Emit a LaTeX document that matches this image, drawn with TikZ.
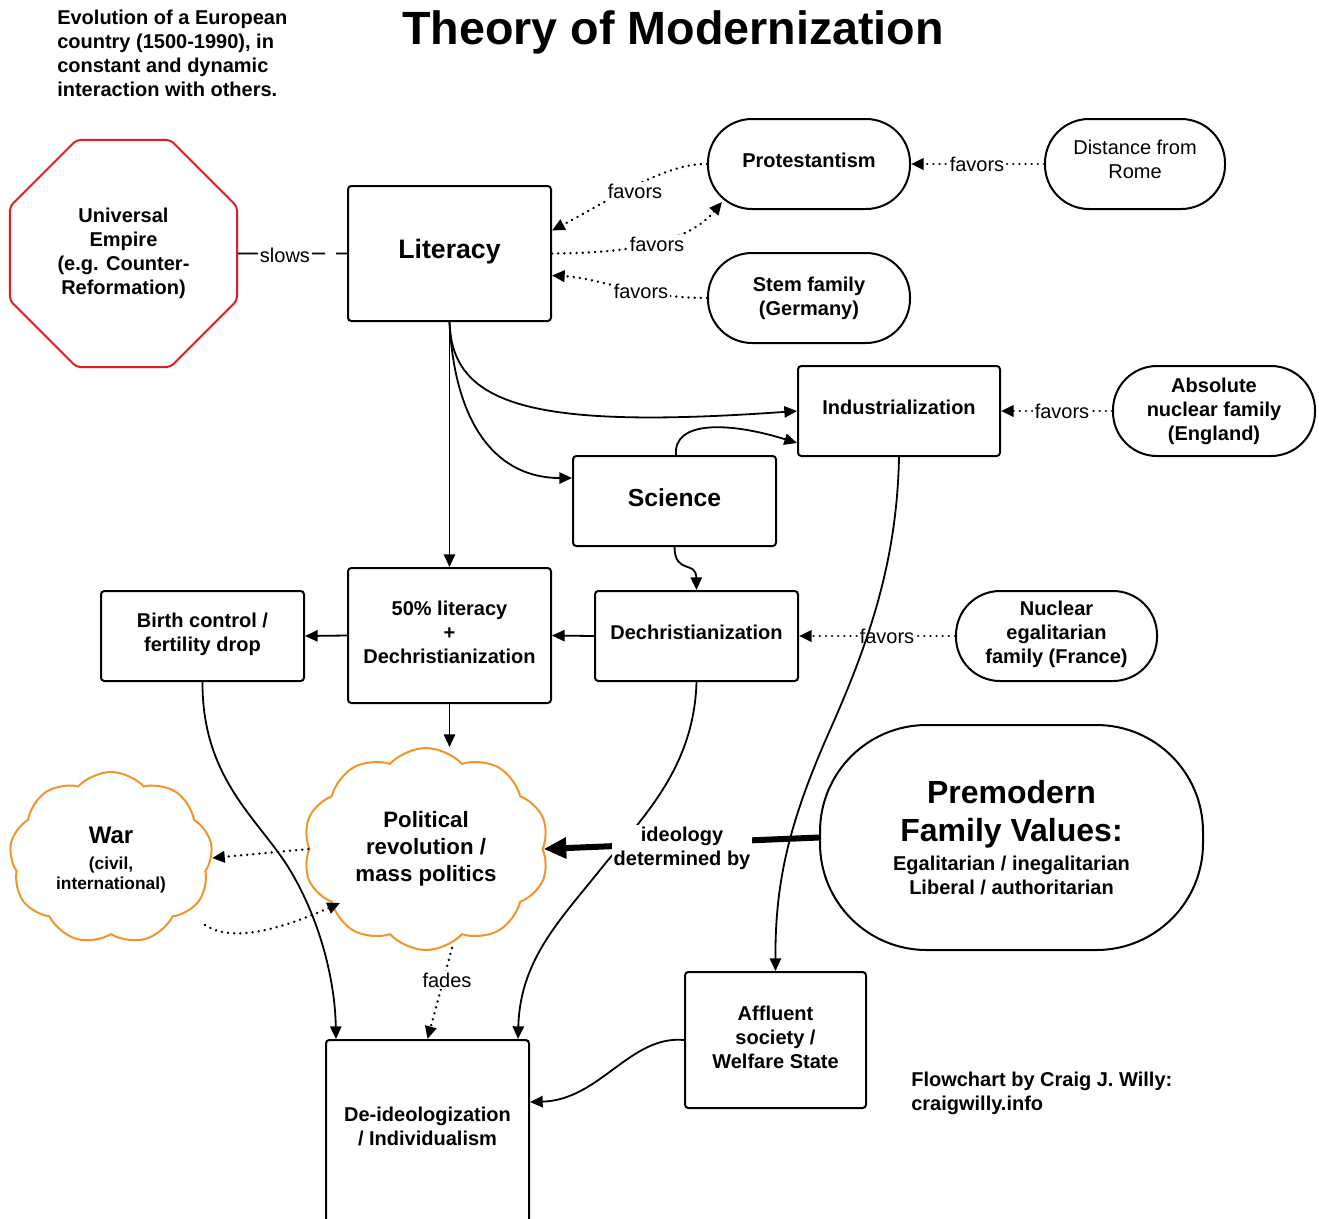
\documentclass[tikz,border=0pt]{standalone}
\usepackage{fontspec}
\setmainfont{Liberation Sans}
\usetikzlibrary{arrows.meta,shapes.geometric,shapes.symbols,calc}
\definecolor{cloudorange}{RGB}{240,150,40}
\definecolor{stopred}{RGB}{220,30,30}
\begin{document}
\begin{tikzpicture}[x=0.75pt,y=-0.75pt,
  every node/.style={inner sep=0pt, align=center},
  bodyfont/.style={font=\bfseries\fontsize{15}{18}\selectfont},
  box/.style={draw, line width=1.5pt, rounded corners=2.5pt, fill=white, bodyfont},
  pill/.style={draw, line width=1.5pt, rounded corners=33pt, fill=white, bodyfont},
  conn/.style={line width=1.35pt, -{Triangle[length=9.5pt,width=8.5pt]}},
  dotconn/.style={line width=2pt, dash pattern=on 0.01pt off 4.6pt, line cap=round, -{Triangle[length=9.5pt,width=8.5pt]}},
  lab/.style={fill=white, font=\fontsize{15}{18}\selectfont, inner sep=1.5pt},
  puff/.style={cloud, draw=cloudorange, line width=1.5pt, fill=white, cloud puff arc=95},
]
\fill[white] (0,0) rectangle (1319,1218);
\useasboundingbox (0,0) rectangle (1319,1218);

% ---------- texts ----------
\node[anchor=base, font=\bfseries\fontsize{35}{40}\selectfont] (title) at (673,44) {Theory of Modernization};
\node[anchor=north west, align=left, bodyfont] (intro) at (57,9.5) {Evolution of a European\\country (1500-1990), in\\constant and dynamic\\interaction with others.};
\node[anchor=north west, align=left, bodyfont] (credit) at (911,1072) {Flowchart by Craig J. Willy:\\craigwilly.info};

% ---------- nodes ----------
\node[regular polygon, regular polygon sides=8, draw=stopred, line width=1.5pt, minimum size=184.3pt, rounded corners=3pt, fill=white, bodyfont] (emp) at (123.5,253.5) {Universal\\Empire\\(e.g. Counter-\\Reformation)};
\node[box, minimum width=152.25pt, minimum height=101.25pt, font=\bfseries\fontsize{20}{24}\selectfont, text depth=7pt] (lit) at (449.5,253.5) {Literacy};
\node[pill, minimum width=151.5pt, minimum height=67.5pt, text depth=6pt] (prot) at (809,164) {Protestantism};
\node[pill, minimum width=135pt, minimum height=67.5pt, font=\fontsize{15}{18}\selectfont, text depth=6.5pt] (dist) at (1135,164) {Distance from\\Rome};
\node[pill, minimum width=151.5pt, minimum height=67.5pt] (stem) at (809,298) {Stem family\\(Germany)};
\node[box, minimum width=151.5pt, minimum height=67.5pt, text depth=6pt] (ind) at (899,411) {Industrialization};
\node[pill, minimum width=151.5pt, minimum height=67.5pt] (abs) at (1214,411) {Absolute\\nuclear family\\(England)};
\node[box, minimum width=152.25pt, minimum height=67.5pt, font=\bfseries\fontsize{18.5}{22}\selectfont, text depth=4.5pt] (sci) at (674.5,501) {Science};
\node[box, minimum width=152.25pt, minimum height=101.25pt, text depth=4.5pt] (lit50) at (449.5,635.5) {50\% literacy\\+\\Dechristianization};
\node[box, minimum width=152.25pt, minimum height=67.5pt, text depth=5.5pt] (birth) at (202.5,636) {Birth control /\\fertility drop};
\node[box, minimum width=152.25pt, minimum height=67.5pt, text depth=6pt] (dech) at (696.5,636) {Dechristianization};
\node[pill, minimum width=150.75pt, minimum height=67.5pt, text depth=6pt] (nuc) at (1056.5,636) {Nuclear\\egalitarian\\family (France)};
\node[draw, line width=1.5pt, rounded corners=80pt, minimum width=287.25pt, minimum height=168.75pt, fill=white, font=\bfseries\fontsize{24}{28.5}\selectfont] (prem) at (1011.5,837.5)
  {Premodern\\Family Values:\\[-6.5pt]{\fontsize{15}{18}\selectfont Egalitarian / inegalitarian}\\[-10.5pt]{\fontsize{15}{18}\selectfont Liberal / authoritarian}};
\node[puff, cloud puffs=9, aspect=1.2, minimum width=152.25pt, minimum height=129pt, font=\bfseries\fontsize{13}{15}\selectfont, text depth=0pt] (war) at (111,858) {{\fontsize{18}{21}\selectfont War}\\[4.5pt](civil,\\international)};
\node[puff, cloud puffs=10, aspect=1.2, minimum width=184.5pt, minimum height=151.5pt, font=\bfseries\fontsize{16.7}{20.25}\selectfont] (pol) at (426,849) {Political\\revolution /\\mass politics};
\node[box, minimum width=135.75pt, minimum height=102pt, text depth=4.5pt] (aff) at (775.5,1040) {Affluent\\society /\\Welfare State};
\node[draw, line width=1.5pt, rounded corners=2.5pt, minimum width=152.25pt, minimum height=165pt, fill=white] (deid) at (427.5,1150) {};
\node[bodyfont] (deidtxt) at (427.5,1126) {De-ideologization\\/ Individualism};

% ---------- connectors ----------
\draw[line width=1.35pt, dash pattern=on 8.25pt off 8.25pt on 80pt off 0.01pt] (lit.west) -- (emp.east);
\draw[dotconn] (prot.west) .. controls (665,163) and (610,200) .. ($(lit.east)+(0,-23)$);
\draw[dotconn] (lit.east) .. controls (640,253) and (690,240) .. ($(prot.south west)+(15,-8)$);
\draw[dotconn] (stem.west) .. controls (640,298) and (600,278) .. ($(lit.east)+(0,22)$);
\draw[dotconn] (dist.west) -- (prot.east);
\draw[dotconn] (abs.west) -- (ind.east);
\draw[dotconn] (nuc.west) -- (dech.east);

\draw[conn] (lit.south) -- (lit50.north);
\draw[conn] (lit.south) .. controls (452,405) and (530,430) .. (ind.west);
\draw[conn] (lit.south) .. controls (455,430) and (500,478) .. ($(sci.west)+(0,-23)$);
\draw[conn] ($(sci.north)+(1.5,0)$) .. controls (673,420) and (730,422) .. ($(ind.west)+(0,32)$);
\draw[conn] (sci.south) .. controls (675,575) and (696,560) .. (dech.north);
\draw[conn] (dech.west) -- (lit50.east);
\draw[conn] (lit50.west) -- (birth.east);
\draw[conn] (lit50.south) -- (lit50.south |- pol.north);
\draw[conn] (birth.south) .. controls (202,780) and (260,820) .. (290,870) .. controls (320,920) and (335,980) .. ($(deid.north west)+(11,0)$);
\draw[conn] (dech.south) .. controls (694,770) and (640,820) .. (600,870) .. controls (560,920) and (520,960) .. ($(deid.north east)+(-12,0)$);
\draw[conn] (aff.west) .. controls (630,1035) and (600,1100) .. ($(deid.north east)+(0,63)$);

\draw[dotconn] ($(pol.center)+(26,99)$) -- (deid.north);
\draw[dotconn] (pol.west) -- (war.east);
\draw[dotconn] ($(war.center)+(94,67)$) .. controls (235,945) and (290,925) .. ($(pol.center)+(-86,54)$);

\draw[line width=4.5pt, -{Triangle[length=17pt,width=15pt]}] (prem.west) -- (pol.east);

% ---------- labels ----------
\node[lab] (l1) at (285,255) {slows};
\node[lab] (l2) at (635,191) {favors};
\node[lab] (l3) at (657,244) {favors};
\node[lab] (l4) at (641,291) {favors};
\node[lab] (l5) at (977,164) {favors};
\node[lab] (l6) at (1062,411) {favors};
\node[lab] (l7) at (887,636) {favors};
\node[lab] (l8) at (447,980) {fades};
\node[lab, font=\bfseries\fontsize{15}{18}\selectfont] (l9) at (682,848) {ideology\\determined by};

\draw[conn] (ind.south) .. controls (897,560) and (870,640) .. (830,730) .. controls (790,820) and (775,880) .. (aff.north);
\end{tikzpicture}
\end{document}
